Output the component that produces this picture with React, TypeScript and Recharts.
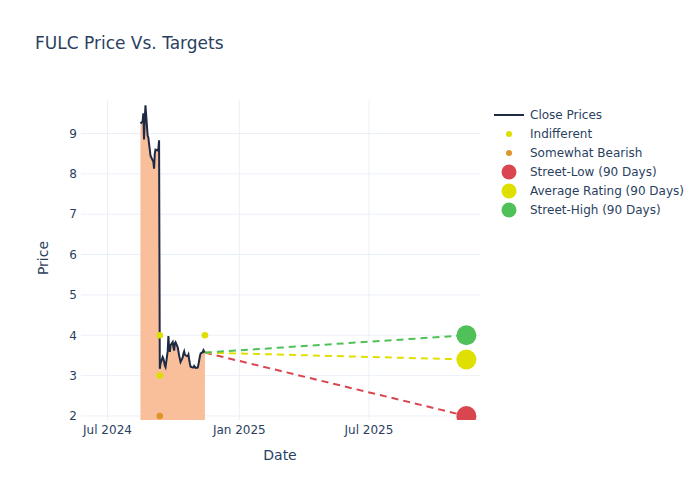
import React from 'react';
import {
  ComposedChart,
  Area,
  Line,
  Scatter,
  XAxis,
  YAxis,
  CartesianGrid,
} from 'recharts';

// 終値（取引日）
const priceDates = [
  '2024-08-16', '2024-08-19', '2024-08-20', '2024-08-21', '2024-08-22', '2024-08-23',
  '2024-08-26', '2024-08-27', '2024-08-28', '2024-08-29', '2024-08-30',
  '2024-09-03', '2024-09-04', '2024-09-05', '2024-09-06',
  '2024-09-09', '2024-09-10', '2024-09-11', '2024-09-12', '2024-09-13',
  '2024-09-16', '2024-09-17', '2024-09-18', '2024-09-19', '2024-09-20',
  '2024-09-23', '2024-09-24', '2024-09-25', '2024-09-26', '2024-09-27',
  '2024-09-30', '2024-10-01', '2024-10-02', '2024-10-03', '2024-10-04',
  '2024-10-07', '2024-10-08', '2024-10-09', '2024-10-10', '2024-10-11',
  '2024-10-14', '2024-10-15', '2024-10-16', '2024-10-17', '2024-10-18',
  '2024-10-21', '2024-10-22', '2024-10-23', '2024-10-24', '2024-10-25',
  '2024-10-28', '2024-10-29', '2024-10-30', '2024-10-31', '2024-11-01',
  '2024-11-04', '2024-11-05', '2024-11-06', '2024-11-07', '2024-11-08',
  '2024-11-11', '2024-11-12', '2024-11-13', '2024-11-14',
];

const closePrices = [
  9.25, 9.3, 9.5, 8.85, 9.35, 9.7,
  8.95, 8.9, 8.75, 8.6, 8.45,
  8.3, 8.13, 8.5, 8.6,
  8.58, 8.62, 8.83, 3.17, 3.3,
  3.46, 3.42, 3.34, 3.25, 3.21,
  3.6, 3.98, 3.7, 3.59, 3.75,
  3.83, 3.7, 3.62, 3.8, 3.83,
  3.7, 3.6, 3.5, 3.42, 3.34,
  3.45, 3.55, 3.6, 3.52, 3.5,
  3.48, 3.52, 3.4, 3.3, 3.22,
  3.2, 3.2, 3.24, 3.22, 3.19,
  3.2, 3.28, 3.38, 3.48, 3.55,
  3.58, 3.63, 3.6, 3.57,
];

// アナリスト評価
const indifferentDates = ['2024-09-12', '2024-09-12', '2024-11-14'];
const indifferentTargets = [4, 3, 4];
const bearishDates = ['2024-09-12'];
const bearishTargets = [2];

// 90日間の目標株価
const targetStart = '2024-11-14';
const targetEnd = '2025-11-14';
const lastClose = 3.57;
const streetLow = 2;
const averageTarget = 3.4;
const streetHigh = 4;

const xTicks = ['2024-07-01', '2025-01-01', '2025-07-01'];
const xTickLabels = ['Jul 2024', 'Jan 2025', 'Jul 2025'];
const yTicks = [2, 3, 4, 5, 6, 7, 8, 9];

const ts = (d: string) => Date.parse(d);

const priceData = priceDates.map((d, i) => ({ t: ts(d), v: closePrices[i] }));
const indifferentData = indifferentDates.map((d, i) => ({ t: ts(d), v: indifferentTargets[i] }));
const bearishData = bearishDates.map((d, i) => ({ t: ts(d), v: bearishTargets[i] }));
const seg = (to: number) => [
  { t: ts(targetStart), v: lastClose },
  { t: ts(targetEnd), v: to },
];

const FONT = '"DejaVu Sans", sans-serif';
const TEXT = '#2a3f5f';

const C_LINE = '#1f2a44';
const C_FILL = '#f9bf9b';
const C_IND = '#dede00';
const C_BEAR = '#dc962c';
const C_LOW = '#d9464f';
const C_AVG = '#e0e000';
const C_HIGH = '#4fc158';

const dot = (r: number, color: string) => (props: any) => (
  <circle cx={props.cx} cy={props.cy} r={r} fill={color} />
);

const legendItems = [
  { label: 'Close Prices', kind: 'line', color: C_LINE },
  { label: 'Indifferent', kind: 'small', color: C_IND },
  { label: 'Somewhat Bearish', kind: 'small', color: C_BEAR },
  { label: 'Street-Low (90 Days)', kind: 'big', color: C_LOW },
  { label: 'Average Rating (90 Days)', kind: 'big', color: C_AVG },
  { label: 'Street-High (90 Days)', kind: 'big', color: C_HIGH },
];

export default function App() {
  return (
    <div
      style={{
        position: 'absolute',
        left: 0,
        top: 0,
        width: 700,
        height: 500,
        background: '#fff',
        fontFamily: FONT,
        color: TEXT,
      }}
    >
      <ComposedChart
        width={700}
        height={500}
        data={priceData}
        margin={{ top: 100, right: 220, bottom: 50, left: 51 }}
      >
        <CartesianGrid stroke="#ebf0f8" strokeWidth={1} syncWithTicks />
        <XAxis
          dataKey="t"
          type="number"
          domain={[Date.UTC(2024, 4, 25), Date.UTC(2025, 11, 3)]}
          allowDataOverflow
          ticks={xTicks.map(ts)}
          tickFormatter={(v: number) => xTickLabels[xTicks.map(ts).indexOf(v)] ?? ''}
          height={30}
          tickSize={0}
          tickMargin={5}
          axisLine={false}
          tickLine={false}
          tick={{ fontSize: 12, fill: TEXT, fontFamily: FONT }}
        />
        <YAxis
          type="number"
          domain={[1.9, 9.83]}
          allowDataOverflow
          ticks={yTicks}
          width={30}
          tickSize={0}
          tickMargin={4}
          axisLine={false}
          tickLine={false}
          tick={{ fontSize: 12, fill: TEXT, fontFamily: FONT }}
        />
        <Area
          dataKey="v"
          type="linear"
          stroke={C_LINE}
          strokeWidth={2}
          fill={C_FILL}
          fillOpacity={1}
          isAnimationActive={false}
        />
        <Line data={seg(streetLow)} dataKey="v" stroke={C_LOW} strokeWidth={2} strokeDasharray="7 5" dot={false} isAnimationActive={false} />
        <Line data={seg(averageTarget)} dataKey="v" stroke={C_AVG} strokeWidth={2} strokeDasharray="7 5" dot={false} isAnimationActive={false} />
        <Line data={seg(streetHigh)} dataKey="v" stroke={C_HIGH} strokeWidth={2} strokeDasharray="7 5" dot={false} isAnimationActive={false} />
        <Scatter data={indifferentData} dataKey="v" shape={dot(3.3, C_IND)} isAnimationActive={false} />
        <Scatter data={bearishData} dataKey="v" shape={dot(3.3, C_BEAR)} isAnimationActive={false} />
        <Scatter data={[seg(streetLow)[1]]} dataKey="v" shape={dot(10, C_LOW)} isAnimationActive={false} />
        <Scatter data={[seg(averageTarget)[1]]} dataKey="v" shape={dot(10, C_AVG)} isAnimationActive={false} />
        <Scatter data={[seg(streetHigh)[1]]} dataKey="v" shape={dot(10, C_HIGH)} isAnimationActive={false} />
      </ComposedChart>

      <div style={{ position: 'absolute', left: 35, top: 33, fontSize: 17, whiteSpace: 'nowrap' }}>
        FULC Price Vs. Targets
      </div>
      <div style={{ position: 'absolute', left: 230, width: 100, top: 447, fontSize: 14, textAlign: 'center' }}>
        Date
      </div>
      <div
        style={{
          position: 'absolute',
          left: 43,
          top: 258,
          fontSize: 14,
          transform: 'translate(-50%, -50%) rotate(-90deg)',
          whiteSpace: 'nowrap',
        }}
      >
        Price
      </div>

      {legendItems.map((item, i) => (
        <div
          key={item.label}
          style={{
            position: 'absolute',
            left: 494,
            top: 115 + i * 19 - 9,
            height: 18,
            display: 'flex',
            alignItems: 'center',
            fontSize: 12,
            whiteSpace: 'nowrap',
          }}
        >
          <svg width={30} height={18} style={{ marginRight: 6 }}>
            {item.kind === 'line' && <line x1={0} y1={9} x2={30} y2={9} stroke={item.color} strokeWidth={2} />}
            {item.kind === 'small' && <circle cx={15} cy={9} r={3} fill={item.color} />}
            {item.kind === 'big' && <circle cx={15} cy={9} r={7.5} fill={item.color} />}
          </svg>
          {item.label}
        </div>
      ))}
    </div>
  );
}
